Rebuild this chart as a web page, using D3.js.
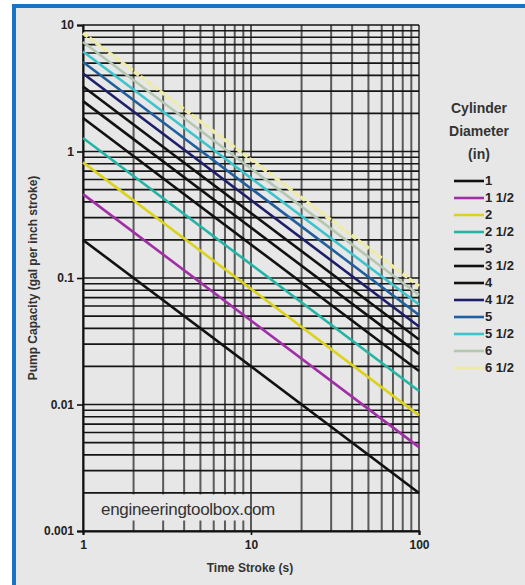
<!DOCTYPE html>
<html>
<head>
<meta charset="utf-8">
<script src="https://cdn.jsdelivr.net/npm/d3@7"></script>
<style>
  html, body { margin: 0; padding: 0; background: #fff; }
  svg text { font-family: "Liberation Sans Narrow", "Arial Narrow", "Liberation Sans", sans-serif; }
</style>
</head>
<body>
<div id="chart"></div>
<script>
// Data
const diameters = ["1", "1 1/2", "2", "2 1/2", "3", "3 1/2", "4", "4 1/2", "5", "5 1/2", "6", "6 1/2"];
const strokeTimes = [1, 100];
const capacityAt1s = [0.2, 0.46, 0.82, 1.28, 1.84, 2.5, 3.26, 4.13, 5.1, 6.17, 7.34, 8.62];
const capacityAt100s = [0.002, 0.0046, 0.0082, 0.0128, 0.0184, 0.025, 0.0326, 0.0413, 0.051, 0.0617, 0.0734, 0.0862];
const xTicks = [1, 10, 100];
const yTicks = [0.001, 0.01, 0.1, 1, 10];

const series = diameters.map((d, i) => ({
  name: d,
  values: [
    { t: strokeTimes[0], q: capacityAt1s[i] },
    { t: strokeTimes[1], q: capacityAt100s[i] }
  ]
}));

// Base variables
const w = 525;
const h = 585;
const bg = "#e7e7e7";

const colour = d3.scaleOrdinal()
  .domain(diameters)
  .range(["#111111", "#a12ea6", "#dcd21e", "#25b3a6", "#111111", "#111111",
          "#111111", "#1d1f6a", "#1f5f9e", "#3cc4cc", "#b4c8b0", "#eeeca0"]);

const xScale = d3.scaleLog().domain([1, 100]).range([83, 419]);
const yScale = d3.scaleLog().domain([0.001, 10]).range([531, 25]);

const svg = d3.select("#chart")
  .append("svg")
  .attr("width", w)
  .attr("height", h);

// Frame: grey panel with blue border on top and left
svg.append("rect").attr("x", 0).attr("y", 0).attr("width", w).attr("height", h).attr("fill", "#fff");
svg.append("rect").attr("x", 12).attr("y", 4).attr("width", w - 12).attr("height", h - 4).attr("fill", "#1a73c4");
svg.append("rect").attr("x", 16).attr("y", 8).attr("width", w - 16).attr("height", h - 8).attr("fill", bg);

// grid values: 1..9 per decade
const logGrid = (lo, hi) => {
  const out = [];
  for (let p = lo; p < hi; p *= 10) {
    for (let k = 1; k < 10; k++) out.push(p * k);
  }
  out.push(hi);
  return out;
};

const grid = svg.append("g");

grid.selectAll("line.v")
  .data(logGrid(1, 100))
  .enter()
  .append("line")
  .attr("class", "v")
  .attr("x1", d => xScale(d))
  .attr("x2", d => xScale(d))
  .attr("y1", yScale(10))
  .attr("y2", yScale(0.001))
  .attr("stroke", "#5a5a5a")
  .attr("stroke-width", 2);

grid.selectAll("line.h")
  .data(logGrid(0.001, 10))
  .enter()
  .append("line")
  .attr("class", "h")
  .attr("x1", xScale(1))
  .attr("x2", xScale(100))
  .attr("y1", d => yScale(d))
  .attr("y2", d => yScale(d))
  .attr("stroke", "#151515")
  .attr("stroke-width", 1.6);

// watermark box covering the grid
svg.append("rect")
  .attr("x", xScale(1) + 1)
  .attr("y", yScale(0.002) + 1.5)
  .attr("width", xScale(10) - xScale(1) - 2)
  .attr("height", yScale(0.001) - yScale(0.002) - 12)
  .attr("fill", bg);

svg.append("text")
  .attr("x", 101)
  .attr("y", 515)
  .attr("font-size", 17)
  .attr("fill", "#333")
  .style("font-family", "'Liberation Sans', Arial, sans-serif")
  .style("letter-spacing", "-0.3px")
  .text("engineeringtoolbox.com");

// Axes
const xAxis = d3.axisBottom(xScale).tickValues(xTicks).tickFormat(d3.format("")).tickSize(4);
const yAxis = d3.axisLeft(yScale).tickValues(yTicks).tickFormat(d => d3.format("")(d)).tickSize(6);

const gx = svg.append("g")
  .attr("transform", `translate(0, ${yScale(0.001)})`)
  .call(xAxis);
const gy = svg.append("g")
  .attr("transform", `translate(${xScale(1)}, 0)`)
  .call(yAxis);

[gx, gy].forEach(g => {
  g.select(".domain").attr("stroke", "#111").attr("stroke-width", 2);
  g.selectAll(".tick line").attr("stroke", "#111").attr("stroke-width", 1.6);
  g.selectAll(".tick text")
    .attr("fill", "#222")
    .attr("font-size", 12)
    .attr("font-weight", "bold");
});
gx.selectAll(".tick text").attr("dy", "0.9em");
gy.selectAll(".tick text").attr("x", -9);

// Series lines
const line = d3.line()
  .x(d => xScale(d.t))
  .y(d => yScale(d.q));

svg.selectAll("path.series")
  .data(series)
  .enter()
  .append("path")
  .attr("class", "series")
  .attr("fill", "none")
  .attr("stroke", d => colour(d.name))
  .attr("stroke-width", d => d.name === "6 1/2" ? 3.5 : 2.6)
  .attr("stroke-dasharray", d => d.name === "6 1/2" ? "6 2" : null)
  .attr("d", d => line(d.values));

// Axis titles
svg.append("text")
  .attr("x", 250)
  .attr("y", 572)
  .attr("text-anchor", "middle")
  .attr("font-size", 12)
  .attr("font-weight", "bold")
  .attr("fill", "#333")
  .text("Time Stroke (s)");

svg.append("text")
  .attr("transform", "translate(37, 278) rotate(-90)")
  .attr("text-anchor", "middle")
  .attr("font-size", 12)
  .attr("font-weight", "bold")
  .attr("fill", "#333")
  .text("Pump Capacity (gal per inch stroke)");

// Legend
const legend = svg.append("g");
["Cylinder", "Diameter", "(in)"].forEach((t, i) => {
  legend.append("text")
    .attr("x", 479)
    .attr("y", 113 + i * 23)
    .attr("text-anchor", "middle")
    .attr("font-size", 14)
    .attr("font-weight", "bold")
    .attr("fill", "#333")
    .text(t);
});

const items = legend.selectAll("g.item")
  .data(series)
  .enter()
  .append("g")
  .attr("class", "item")
  .attr("transform", (d, i) => `translate(0, ${181 + i * 17})`);

items.append("line")
  .attr("x1", 454)
  .attr("x2", 484)
  .attr("stroke", d => colour(d.name))
  .attr("stroke-width", 2.6);

items.append("text")
  .attr("x", 485)
  .attr("y", 0)
  .attr("dy", "0.32em")
  .attr("font-size", 13)
  .attr("font-weight", "bold")
  .attr("fill", "#222")
  .text(d => d.name);
</script>
</body>
</html>
